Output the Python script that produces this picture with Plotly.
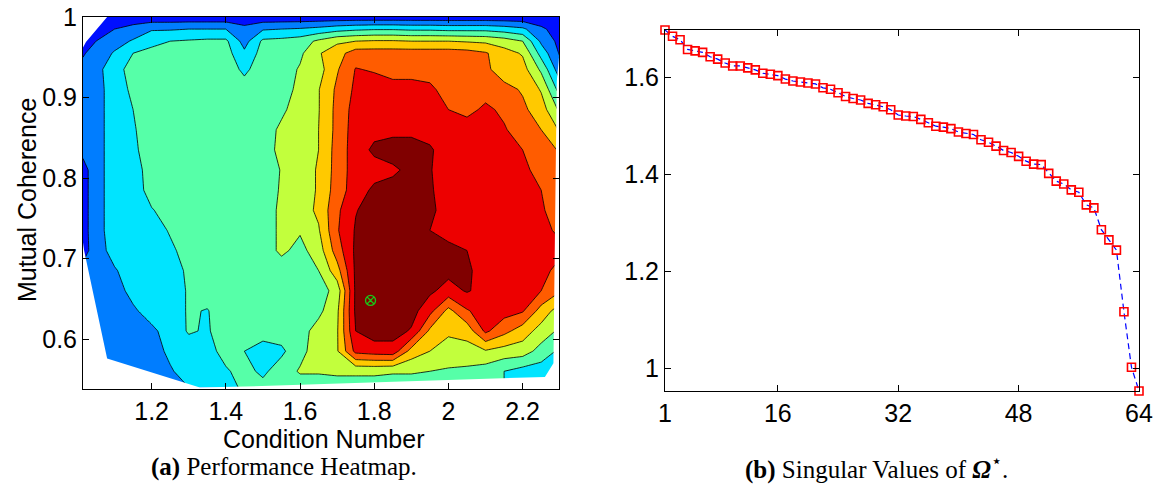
import plotly.graph_objects as go

# ---------------- performance heatmap data ----------------
COND_NUMBER = [1.015, 1.05, 1.10, 1.15, 1.20, 1.25, 1.30, 1.35, 1.40, 1.45, 1.50, 1.55, 1.60, 1.65,
               1.70, 1.75, 1.80, 1.85, 1.90, 1.95, 2.00, 2.05, 2.10, 2.15, 2.20, 2.25, 2.30]

MUTUAL_COHERENCE = [1.000, 0.985, 0.970, 0.955, 0.935, 0.910, 0.885, 0.860, 0.835, 0.810, 0.785,
                    0.760, 0.735, 0.710, 0.685, 0.660, 0.635, 0.610, 0.585, 0.560, 0.540]

# performance level, one row per mutual-coherence value (top to bottom)
PERF_1000 = [0.3, 0.3, 0.3, 0.3, 0.3, 0.3, 0.3, 0.3, 0.3, 0.3, 0.3, 0.3, 0.3, 0.3, 0.3, 0.3, 0.3, 0.3, 0.3, 0.3, 0.3, 0.3, 0.3, 0.3, 0.3, 0.3, 0.3]
PERF_0985 = [0.4, 0.5, 1.0, 1.4, 1.9, 1.9, 2.0, 2.0, 2.0, 1.3, 1.9, 2.0, 2.1, 2.3, 2.6, 2.8, 2.9, 2.9, 2.8, 2.8, 2.7, 2.7, 2.7, 2.5, 2.2, 1.2, 0.5]
PERF_0970 = [0.6, 1.0, 1.6, 2.1, 2.7, 3.0, 3.1, 3.2, 3.2, 1.6, 3.2, 3.3, 3.5, 4.2, 4.8, 5.0, 5.1, 5.1, 5.0, 5.0, 5.0, 4.9, 4.8, 4.5, 4.0, 1.8, 0.7]
PERF_0955 = [0.9, 1.4, 2.1, 3.0, 3.3, 3.5, 3.5, 3.5, 3.4, 2.2, 3.4, 3.5, 3.8, 4.9, 5.6, 6.5, 6.5, 6.5, 6.5, 6.5, 6.5, 6.4, 6.1, 5.4, 4.9, 2.6, 0.9]
PERF_0935 = [1.3, 1.6, 2.7, 3.3, 3.5, 3.5, 3.5, 3.5, 3.5, 2.8, 3.5, 3.5, 4.1, 4.6, 5.9, 7.05, 6.9, 6.6, 6.6, 6.6, 6.4, 6.4, 6.2, 5.5, 5.4, 3.8, 1.4]
PERF_0910 = [1.3, 1.6, 2.5, 3.2, 3.5, 3.5, 3.5, 3.5, 3.5, 3.4, 3.5, 3.5, 4.3, 4.95, 6.2, 7.2, 7.5, 7.4, 7.4, 7.2, 6.6, 6.5, 6.6, 6.3, 5.9, 4.9, 2.6]
PERF_0885 = [1.3, 1.6, 2.5, 3.0, 3.5, 3.5, 3.5, 3.5, 3.5, 3.5, 3.5, 3.8, 4.5, 4.95, 6.3, 7.4, 7.6, 7.7, 7.7, 7.5, 7.0, 6.7, 7.2, 6.8, 6.2, 5.5, 3.8]
PERF_0860 = [1.3, 1.6, 2.5, 2.9, 3.5, 3.5, 3.5, 3.5, 3.5, 3.5, 3.5, 4.2, 4.5, 5.0, 6.3, 7.5, 7.7, 7.7, 7.7, 7.7, 7.6, 7.5, 7.5, 7.1, 6.5, 6.0, 4.9]
PERF_0835 = [1.3, 1.6, 2.5, 2.8, 3.5, 3.5, 3.5, 3.5, 3.5, 3.5, 3.5, 4.3, 4.5, 5.0, 6.4, 7.5, 8.2, 8.5, 8.5, 8.1, 7.6, 7.6, 7.5, 7.4, 7.0, 6.5, 5.9]
PERF_0810 = [0.6, 1.6, 2.5, 2.6, 3.4, 3.5, 3.5, 3.5, 3.5, 3.5, 3.5, 4.05, 4.5, 5.1, 6.4, 7.5, 7.6, 7.8, 8.3, 8.05, 7.6, 7.6, 7.6, 7.5, 7.2, 6.7, 6.4]
PERF_0785 = [0.6, 1.6, 2.5, 2.6, 3.3, 3.5, 3.5, 3.5, 3.5, 3.5, 3.5, 4.1, 4.5, 5.1, 6.5, 7.5, 8.2, 8.4, 8.4, 8.1, 7.6, 7.5, 7.5, 7.5, 7.4, 7.0, 6.5]
PERF_0760 = [0.6, 1.6, 2.5, 2.5, 2.95, 3.3, 3.5, 3.5, 3.5, 3.5, 3.5, 4.2, 4.5, 5.2, 6.8, 7.95, 8.4, 8.5, 8.5, 8.2, 7.6, 7.5, 7.5, 7.5, 7.5, 7.1, 6.6]
PERF_0735 = [0.6, 1.6, 2.5, 2.5, 2.5, 3.1, 3.5, 3.5, 3.5, 3.5, 3.5, 4.2, 4.1, 4.9, 6.9, 8.1, 8.5, 8.5, 8.5, 8.0, 7.6, 7.6, 7.5, 7.5, 7.5, 7.3, 6.8]
PERF_0710 = [0.6, 1.5, 2.4, 2.5, 2.5, 2.8, 3.4, 3.5, 3.5, 3.5, 3.5, 4.2, 3.7, 4.5, 6.5, 8.2, 8.5, 8.5, 8.5, 8.4, 8.3, 8.0, 7.5, 7.5, 7.5, 7.5, 7.3]
PERF_0685 = [1.3, 1.5, 1.9, 2.5, 2.5, 2.5, 3.2, 3.5, 3.5, 3.5, 3.5, 3.5, 3.6, 4.0, 5.6, 8.2, 8.5, 8.5, 8.5, 8.5, 8.3, 8.2, 7.5, 7.5, 7.5, 7.4, 6.6]
PERF_0660 = [1.3, 1.5, 1.6, 2.3, 2.5, 2.5, 3.1, 3.4, 3.5, 3.5, 3.5, 3.5, 3.5, 3.5, 4.4, 8.2, 8.5, 8.5, 8.5, 8.2, 7.6, 8.1, 7.6, 7.5, 7.3, 7.0, 6.1]
PERF_0635 = [1.3, 1.4, 1.5, 1.85, 2.4, 2.5, 3.1, 2.95, 3.5, 3.5, 3.5, 3.5, 3.5, 3.75, 4.8, 8.2, 8.5, 8.5, 8.4, 7.3, 5.7, 6.9, 7.5, 7.4, 7.1, 5.6, 4.5]
PERF_0610 = [1.3, 1.4, 1.5, 1.5, 1.8, 2.4, 3.1, 2.9, 3.5, 3.5, 3.5, 3.5, 3.6, 4.4, 4.9, 8.0, 8.5, 8.4, 7.9, 5.8, 5.2, 5.4, 7.2, 6.3, 5.5, 4.6, 3.8]
PERF_0585 = [1.3, 1.4, 1.5, 1.5, 1.6, 2.2, 2.5, 2.7, 3.3, 3.0, 2.5, 2.8, 3.7, 4.5, 4.9, 7.3, 7.5, 7.6, 5.6, 5.0, 4.5, 4.6, 4.9, 4.6, 4.5, 3.6, 2.8]
PERF_0560 = [1.3, 1.4, 1.5, 1.5, 1.5, 1.9, 2.4, 2.2, 2.9, 3.3, 2.8, 3.5, 4.1, 4.1, 4.2, 4.2, 4.2, 4.1, 4.1, 4.0, 3.9, 3.8, 3.5, 3.0, 2.6, 2.5, 2.5]
PERF_0540 = [1.5, 1.5, 1.5, 1.5, 1.5, 1.5, 2.0, 2.5, 2.6, 3.2, 3.3, 3.4, 3.5, 3.5, 3.5, 3.5, 3.5, 3.5, 3.5, 3.5, 3.5, 3.4, 3.3, 3.0, 2.6, 2.5, 2.5]

# outline of the sampled (condition number, coherence) region
CORNER_CUT_CN = [1.015, 1.080, 1.023, 1.015]
CORNER_CUT_MC = [1.000, 1.000, 0.969, 0.962]
LOWER_EDGE_CN = [1.015, 1.018, 1.080, 1.330, 1.450, 1.650, 1.900, 2.100, 2.260, 2.283, 2.285, 2.288, 2.292, 2.300]
LOWER_EDGE_MC = [0.720, 0.710, 0.576, 0.540, 0.541, 0.544, 0.548, 0.551, 0.553, 0.570, 0.650, 0.800, 0.920, 0.960]

BEST_CN = [1.79]
BEST_MC = [0.648]

# ---------------- singular values ----------------
SV_INDEX = list(range(1, 65))
SINGULAR_VALUES = [1.697, 1.684, 1.677, 1.657, 1.654, 1.651, 1.642, 1.637, 1.629, 1.623,
                   1.623, 1.619, 1.615, 1.608, 1.606, 1.603, 1.596, 1.592, 1.590, 1.588,
                   1.586, 1.578, 1.575, 1.568, 1.560, 1.556, 1.553, 1.546, 1.543, 1.539,
                   1.533, 1.522, 1.520, 1.519, 1.513, 1.506, 1.499, 1.497, 1.494, 1.487,
                   1.484, 1.482, 1.471, 1.466, 1.458, 1.449, 1.445, 1.437, 1.427, 1.421,
                   1.420, 1.402, 1.386, 1.380, 1.368, 1.363, 1.337, 1.331, 1.286, 1.265,
                   1.244, 1.117, 1.003, 0.954]

X_TICKS_A = [1.2, 1.4, 1.6, 1.8, 2.0, 2.2]
X_LABELS_A = ["1.2", "1.4", "1.6", "1.8", "2", "2.2"]
Y_TICKS_A = [0.6, 0.7, 0.8, 0.9, 1.0]
Y_LABELS_A = ["0.6", "0.7", "0.8", "0.9", "1"]
X_TICKS_B = [1, 16, 32, 48, 64]
Y_TICKS_B = [1.0, 1.2, 1.4, 1.6]
Y_LABELS_B = ["1", "1.2", "1.4", "1.6"]

# ---------------- figure ----------------
W, H = 1168, 494
X_RANGE_A = [1.015, 2.298]
Y_RANGE_A = [0.538, 1.0]

perf_rows = [PERF_1000, PERF_0985, PERF_0970, PERF_0955, PERF_0935, PERF_0910, PERF_0885,
             PERF_0860, PERF_0835, PERF_0810, PERF_0785, PERF_0760, PERF_0735, PERF_0710,
             PERF_0685, PERF_0660, PERF_0635, PERF_0610, PERF_0585, PERF_0560, PERF_0540]
# contour traces want ascending y
mc_up = MUTUAL_COHERENCE[::-1]
perf_up = perf_rows[::-1]

# nine discrete jet-like bands, one per unit of performance level
BAND_COLORS = ["#000fff", "#007dff", "#00e4ff", "#56ffa8", "#c2ff3c",
               "#ffc900", "#ff5c00", "#ed0000", "#800000"]
n_band = len(BAND_COLORS)
colorscale = []
for k, c in enumerate(BAND_COLORS):
    colorscale.append([k / n_band, c])
    colorscale.append([(k + 1) / n_band, c])

FONT = "Liberation Sans, Arial, Helvetica, sans-serif"
SERIF = "Liberation Serif, Times New Roman, serif"

fig = go.Figure()

fig.add_trace(go.Contour(
    x=COND_NUMBER, y=mc_up, z=perf_up,
    colorscale=colorscale, showscale=False,
    contours=dict(start=1, end=9, size=1, coloring="fill"),
    line=dict(color="black", width=0.8, smoothing=0),
    xaxis="x", yaxis="y", hoverinfo="skip",
))

# blank out everything outside the sampled region
fig.add_trace(go.Scatter(
    x=CORNER_CUT_CN, y=CORNER_CUT_MC, mode="lines", fill="toself",
    fillcolor="white", line=dict(width=0, color="white"),
    xaxis="x", yaxis="y", hoverinfo="skip", showlegend=False,
))
mask_x = LOWER_EDGE_CN + [X_RANGE_A[1] + 0.01, X_RANGE_A[1] + 0.01, X_RANGE_A[0] - 0.01, X_RANGE_A[0] - 0.01]
mask_y = LOWER_EDGE_MC + [LOWER_EDGE_MC[-1], Y_RANGE_A[0] - 0.01, Y_RANGE_A[0] - 0.01, LOWER_EDGE_MC[0]]
fig.add_trace(go.Scatter(
    x=mask_x, y=mask_y, mode="lines", fill="toself",
    fillcolor="white", line=dict(width=0, color="white"),
    xaxis="x", yaxis="y", hoverinfo="skip", showlegend=False,
))

fig.add_trace(go.Scatter(
    x=BEST_CN, y=BEST_MC, mode="markers",
    marker=dict(symbol="circle-x-open", size=10, color="#18c818", line=dict(width=1.3)),
    xaxis="x", yaxis="y", hoverinfo="skip", showlegend=False,
))

fig.add_trace(go.Scatter(
    x=SV_INDEX, y=SINGULAR_VALUES, mode="lines+markers",
    line=dict(color="#0000ff", width=1.2, dash="6px,4px"),
    marker=dict(symbol="square-open", size=8, color="#ff0000", line=dict(width=1.6, color="#ff0000")),
    xaxis="x2", yaxis="y2", cliponaxis=False, hoverinfo="skip", showlegend=False,
))

axis_common = dict(
    showline=True, linecolor="black", linewidth=1, mirror="ticks",
    ticks="inside", ticklen=6, tickwidth=1, tickcolor="black",
    showgrid=False, zeroline=False, automargin=False,
    tickfont=dict(family=FONT, size=25, color="black"),
)

def px_x(p):
    return p / W

def px_y(p):
    return 1 - p / H

fig.update_layout(
    width=W, height=H,
    margin=dict(l=0, r=0, t=0, b=0, autoexpand=False),
    paper_bgcolor="white", plot_bgcolor="white",
    showlegend=False,
    xaxis=dict(domain=[px_x(83), px_x(559)], range=X_RANGE_A,
               tickvals=X_TICKS_A, ticktext=X_LABELS_A, anchor="y", **axis_common),
    yaxis=dict(domain=[px_y(389), px_y(17)], range=Y_RANGE_A,
               tickvals=Y_TICKS_A, ticktext=Y_LABELS_A, anchor="x", **axis_common),
    xaxis2=dict(domain=[px_x(665), px_x(1139)], range=[1, 64],
                tickvals=X_TICKS_B, anchor="y2", **axis_common),
    yaxis2=dict(domain=[px_y(391), px_y(30)],
                range=[min(SINGULAR_VALUES), max(SINGULAR_VALUES)],
                tickvals=Y_TICKS_B, ticktext=Y_LABELS_B, anchor="x2", **axis_common),
    annotations=[
        dict(text="Condition Number", x=px_x(324), y=px_y(439), xref="paper", yref="paper",
             showarrow=False, xanchor="center", yanchor="middle",
             font=dict(family=FONT, size=25, color="black")),
        dict(text="Mutual Coherence", x=px_x(27), y=px_y(200), xref="paper", yref="paper",
             showarrow=False, xanchor="center", yanchor="middle", textangle=-90,
             font=dict(family=FONT, size=25, color="black")),
        dict(text="<b>(a)</b> Performance Heatmap.", x=px_x(284), y=px_y(467),
             xref="paper", yref="paper", showarrow=False, xanchor="center", yanchor="middle",
             font=dict(family=SERIF, size=25, color="black")),
        dict(text="<b>(b)</b> Singular Values of <b><i>Ω</i></b><sup>⋆</sup>.", x=px_x(876), y=px_y(467),
             xref="paper", yref="paper", showarrow=False, xanchor="center", yanchor="middle",
             font=dict(family=SERIF, size=25, color="black")),
    ],
)

fig.write_html("out.html")
